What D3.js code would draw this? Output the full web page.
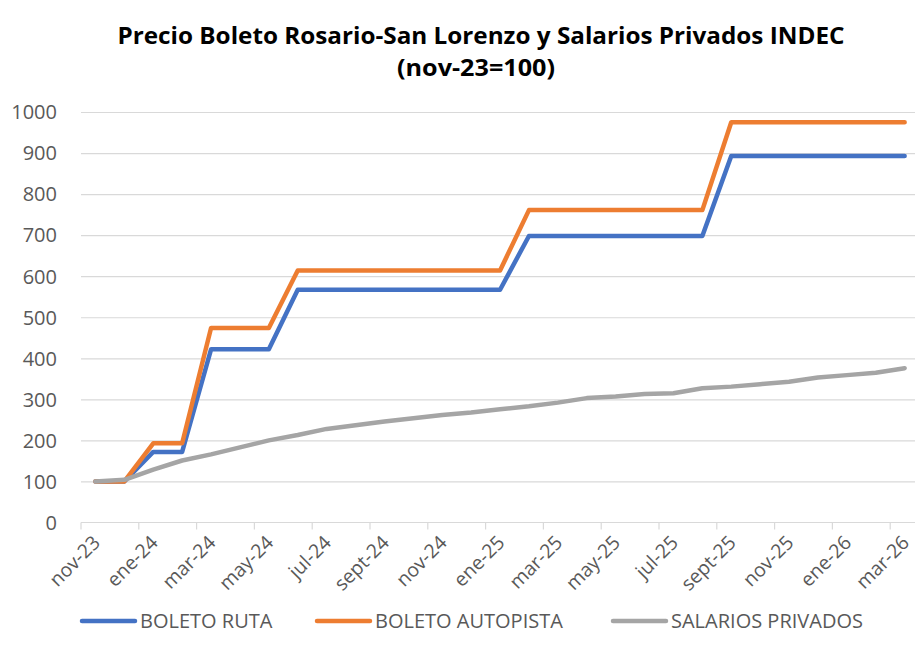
<!DOCTYPE html>
<html>
<head>
<meta charset="utf-8">
<script src="https://cdn.jsdelivr.net/npm/d3@7"></script>
<style>
  body { margin: 0; background: #fff; }
  svg { display: block; }
</style>
</head>
<body>
<div id="chart"></div>
<script>
const width = 915;
const height = 660;

// one category per month, nov-23 .. mar-26
const months = [
  "nov-23", "dic-23", "ene-24", "feb-24", "mar-24", "abr-24", "may-24", "jun-24",
  "jul-24", "ago-24", "sept-24", "oct-24", "nov-24", "dic-24", "ene-25", "feb-25",
  "mar-25", "abr-25", "may-25", "jun-25", "jul-25", "ago-25", "sept-25", "oct-25",
  "nov-25", "dic-25", "ene-26", "feb-26", "mar-26"
];
// labels only every second month, like the excel axis
const labelMonths = months.filter((m, i) => i % 2 === 0);

const boletoRuta = [
  100, 100, 172, 172, 422, 422, 422, 567, 567, 567, 567, 567, 567, 567, 567,
  698, 698, 698, 698, 698, 698, 698, 893, 893, 893, 893, 893, 893, 893
];
const boletoAutopista = [
  100, 100, 193, 193, 474, 474, 474, 614, 614, 614, 614, 614, 614, 614, 614,
  761, 761, 761, 761, 761, 761, 761, 975, 975, 975, 975, 975, 975, 975
];
const salariosPrivados = [
  100, 104, 129, 151, 166, 183, 200, 213, 228, 237, 246, 254, 262, 268, 276,
  283, 292, 303, 307, 313, 315, 327, 331, 337, 343, 353, 359, 365, 376
];

const yTicks = [0, 100, 200, 300, 400, 500, 600, 700, 800, 900, 1000];
const seriesNames = ["BOLETO RUTA", "BOLETO AUTOPISTA", "SALARIOS PRIVADOS"];
const seriesColors = ["#4472C4", "#ED7D31", "#A5A5A5"];
const seriesValues = [boletoRuta, boletoAutopista, salariosPrivados];

const font = "'Open Sans', 'Noto Sans', sans-serif";

const svg = d3.select("#chart")
  .append("svg")
  .attr("width", width)
  .attr("height", height)
  .style("font-family", font);

// plot area runs a bit past the right edge, the original is cropped there
const x = d3.scaleBand()
  .domain(months)
  .range([81, 81 + months.length * 28.9]);

const y = d3.scaleLinear()
  .domain([0, 1000])
  .range([522.5, 112]);

const cx = d => x(d) + x.bandwidth() / 2;

// title, squeezed a little to get the narrow look of the original
const title = svg.append("text")
  .attr("text-anchor", "middle")
  .attr("font-weight", 700)
  .attr("font-size", 23)
  .attr("fill", "#000");
title.append("tspan")
  .attr("x", 481).attr("y", 44)
  .attr("textLength", 727).attr("lengthAdjust", "spacingAndGlyphs")
  .text("Precio Boleto Rosario-San Lorenzo y Salarios Privados INDEC");
title.append("tspan")
  .attr("x", 476).attr("y", 76)
  .attr("textLength", 158).attr("lengthAdjust", "spacingAndGlyphs")
  .text("(nov-23=100)");

// horizontal gridlines
svg.append("g")
  .attr("transform", `translate(${x.range()[0]},0)`)
  .call(d3.axisRight(y).tickValues(yTicks.slice(1)).tickSize(width - x.range()[0]).tickFormat(""))
  .call(g => g.select(".domain").remove())
  .call(g => g.selectAll("line").attr("stroke", "#D9D9D9").attr("stroke-width", 1.2));

// y labels
svg.append("g")
  .attr("transform", "translate(62,0)")
  .call(d3.axisLeft(y).tickValues(yTicks).tickSize(0).tickPadding(5).tickFormat(d3.format("d")))
  .call(g => g.select(".domain").remove())
  .call(g => g.selectAll("text")
    .attr("font-family", font)
    .attr("font-size", 20)
    .attr("fill", "#595959")
    .attr("dy", "0.34em"));

// category axis: line, tick marks on every second band edge, rotated labels
const xAxis = svg.append("g");
xAxis.append("line")
  .attr("x1", x.range()[0]).attr("x2", width)
  .attr("y1", y(0)).attr("y2", y(0))
  .attr("stroke", "#D9D9D9").attr("stroke-width", 1.2);
xAxis.selectAll(".tick-mark")
  .data(labelMonths)
  .join("line")
  .attr("class", "tick-mark")
  .attr("x1", d => x(d)).attr("x2", d => x(d))
  .attr("y1", y(0)).attr("y2", y(0) + 7)
  .attr("stroke", "#D9D9D9").attr("stroke-width", 1.2);
xAxis.selectAll(".tick-label")
  .data(labelMonths)
  .join("text")
  .attr("class", "tick-label")
  .attr("transform", d => `translate(${cx(d) + 1},${539})rotate(-45)`)
  .attr("text-anchor", "end")
  .attr("dy", "0.35em")
  .attr("font-size", 19.5)
  .attr("fill", "#595959")
  .text(d => d);

// the three series
const line = d3.line()
  .x((d, i) => cx(months[i]))
  .y(d => y(d));

svg.append("g")
  .selectAll("path")
  .data(seriesValues)
  .join("path")
  .attr("d", d => line(d))
  .attr("fill", "none")
  .attr("stroke", (d, i) => seriesColors[i])
  .attr("stroke-width", 4.5)
  .attr("stroke-linejoin", "round")
  .attr("stroke-linecap", "round");

// legend
const legendX = [82, 317, 613];
const legend = svg.append("g")
  .selectAll("g")
  .data(seriesNames)
  .join("g")
  .attr("transform", (d, i) => `translate(${legendX[i]},621)`);
legend.append("line")
  .attr("x1", 0).attr("x2", 53)
  .attr("stroke", (d, i) => seriesColors[i])
  .attr("stroke-width", 4.5)
  .attr("stroke-linecap", "round");
legend.append("text")
  .attr("x", 58)
  .attr("dy", "0.35em")
  .attr("font-size", 20)
  .attr("fill", "#595959")
  .text(d => d);
</script>
</body>
</html>
